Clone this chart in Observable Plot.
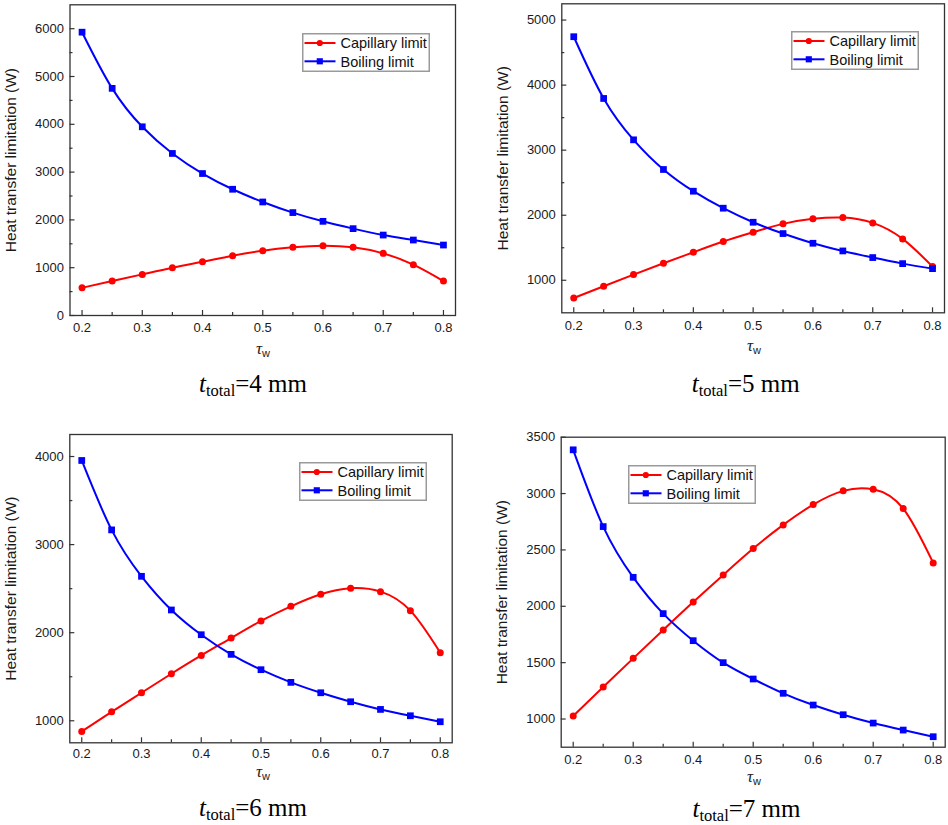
<!DOCTYPE html>
<html>
<head>
<meta charset="utf-8">
<script src="https://cdn.jsdelivr.net/npm/d3@7"></script>
<script src="https://cdn.jsdelivr.net/npm/@observablehq/plot@0.6"></script>
<style>
  body { margin: 0; background: #fff; }
  #wrap { position: relative; width: 948px; height: 825px; overflow: hidden; font-family: "Liberation Sans", Arial, sans-serif; }
  .panel { position: absolute; }
  .panel g[aria-label="y-axis label"] text { font-size: 15.5px; }
  .cap { position: absolute; transform: translate(-50%, -50%); white-space: nowrap; font-family: "Liberation Serif", "Times New Roman", serif; font-size: 25px; line-height: 1; color: #000; }
  .cap sub { font-size: 16.5px; vertical-align: -0.25em; line-height: 0; }
  .xl { position: absolute; transform: translate(-50%, -50%); white-space: nowrap; color: #222; line-height: 1; }
  .xl .tau { font-family: "Liberation Serif", "Times New Roman", serif; font-style: italic; font-size: 17px; }
  .xl sub { font-family: "Liberation Sans", Arial, sans-serif; font-size: 11px; vertical-align: -0.35em; line-height: 0; }
  .legend { position: absolute; }
</style>
</head>
<body>
<div id="wrap"></div>
<script>
// ---------- data ----------
const tau = [0.2, 0.25, 0.3, 0.35, 0.4, 0.45, 0.5, 0.55, 0.6, 0.65, 0.7, 0.75, 0.8];
const xTicks = [0.2, 0.3, 0.4, 0.5, 0.6, 0.7, 0.8];
const xMinor = [0.25, 0.35, 0.45, 0.55, 0.65, 0.75];
const seriesNames = ["Capillary limit", "Boiling limit"];

// t_total = 4 mm
const capillary4 = [580, 720, 860, 1000, 1126, 1252, 1356, 1426, 1461, 1426, 1300, 1063, 720];
const boiling4   = [5927, 4752, 3948, 3390, 2970, 2641, 2375, 2153, 1970, 1817, 1683, 1579, 1474];
const yTicks4 = [0, 1000, 2000, 3000, 4000, 5000, 6000];
const yMinor4 = [500, 1500, 2500, 3500, 4500, 5500];

// t_total = 5 mm
const capillary5 = [728, 908, 1087, 1262, 1431, 1595, 1738, 1867, 1944, 1964, 1882, 1636, 1210];
const boiling5   = [4744, 3795, 3159, 2703, 2369, 2108, 1892, 1718, 1569, 1451, 1349, 1256, 1179];
const yTicks5 = [1000, 2000, 3000, 4000, 5000];
const yMinor5 = [1500, 2500, 3500, 4500];

// t_total = 6 mm
const capillary6 = [879, 1102, 1318, 1534, 1742, 1939, 2133, 2299, 2436, 2504, 2466, 2250, 1773];
const boiling6   = [3955, 3167, 2640, 2258, 1977, 1754, 1580, 1436, 1318, 1216, 1129, 1057, 989];
const yTicks6 = [1000, 2000, 3000, 4000];
const yMinor6 = [1500, 2500, 3500];

// t_total = 7 mm
const capillary7 = [1027, 1284, 1538, 1790, 2038, 2278, 2512, 2722, 2902, 3024, 3038, 2867, 2385];
const boiling7   = [3388, 2707, 2257, 1935, 1695, 1500, 1355, 1228, 1124, 1038, 964, 902, 843];
const yTicks7 = [1000, 1500, 2000, 2500, 3000, 3500];
const yMinor7 = [];

const captionValues = [4, 5, 6, 7];

// ---------- layout ----------
const panels = [
  {cap: capillary4, boil: boiling4, ticks: yTicks4, minor: yMinor4, ydom: [0, 6500], t: captionValues[0],
   left: 0, top: 0, width: 474, height: 360, mt: 4.3, mr: 19, mb: 45, ml: 69.5, xpad: 7.5,
   legend: [301.7, 32.7], xl: [263, 347.5], capPos: [253, 383]},
  {cap: capillary5, boil: boiling5, ticks: yTicks5, minor: yMinor5, ydom: [500, 5250], t: captionValues[1],
   left: 474, top: 0, width: 474, height: 360, mt: 3.3, mr: 4, mb: 47.7, ml: 87.3, xpad: 8,
   legend: [791.3, 31], xl: [754, 345], capPos: [745.7, 383]},
  {cap: capillary6, boil: boiling6, ticks: yTicks6, minor: yMinor6, ydom: [750, 4250], t: captionValues[2],
   left: 0, top: 410, width: 474, height: 380, mt: 24, mr: 22.3, mb: 47.7, ml: 69.3, xpad: 5.5,
   legend: [299.3, 462], xl: [263, 771], capPos: [253, 807]},
  {cap: capillary7, boil: boiling7, ticks: yTicks7, minor: yMinor7, ydom: [750, 3500], t: captionValues[3],
   left: 474, top: 410, width: 474, height: 380, mt: 26.7, mr: 3.3, mb: 43.3, ml: 86.7, xpad: 7.5,
   legend: [628, 465], xl: [754, 776], capPos: [746.5, 808]}
];

const RED = "#ff0000", BLUE = "#0000ff";
const wrap = document.getElementById("wrap");

for (const p of panels) {
  const capRows = tau.map((t, i) => ({tau: t, value: p.cap[i]}));
  const boilRows = tau.map((t, i) => ({tau: t, value: p.boil[i]}));
  const chart = Plot.plot({
    width: p.width, height: p.height,
    marginTop: p.mt, marginRight: p.mr, marginBottom: p.mb, marginLeft: p.ml,
    x: {domain: [0.18, 0.82]},
    y: {domain: p.ydom},
    style: {fontFamily: "Liberation Sans, Arial, sans-serif", fontSize: "13px", color: "#1a1a1a", background: "transparent"},
    marks: [
      Plot.axisX({ticks: xTicks, tickSize: -5, fill: "none", label: null, stroke: "#333", strokeWidth: 1.2}),
      Plot.axisX({ticks: xMinor, tickSize: -3, fill: "none", label: null, stroke: "#333", strokeWidth: 1.2}),
      Plot.axisX({ticks: xTicks, tickSize: 0, tickPadding: p.xpad, tickFormat: d3.format(".1f"), label: null}),
      Plot.axisY({ticks: p.ticks, tickSize: -5, fill: "none", label: null, stroke: "#333", strokeWidth: 1.2}),
      Plot.axisY({ticks: p.minor, tickSize: -3, fill: "none", label: null, stroke: "#333", strokeWidth: 1.2}),
      Plot.axisY({ticks: p.ticks, tickSize: 0, tickPadding: 6, tickFormat: d3.format("d"),
        label: "Heat transfer limitation (W)", labelAnchor: "center", labelOffset: 65, labelArrow: false}),
      Plot.line(capRows, {x: "tau", y: "value", stroke: RED, strokeWidth: 2, curve: "natural"}),
      Plot.dot(capRows, {x: "tau", y: "value", r: 3.5, fill: RED, symbol: "circle"}),
      Plot.line(boilRows, {x: "tau", y: "value", stroke: BLUE, strokeWidth: 2, curve: "natural"}),
      Plot.dot(boilRows, {x: "tau", y: "value", r: 3.8, fill: BLUE, symbol: "square"}),
      Plot.frame({stroke: "#333", strokeWidth: 1.3})
    ]
  });
  chart.classList.add("panel");
  chart.style.left = p.left + "px";
  chart.style.top = p.top + "px";
  wrap.appendChild(chart);

  // legend
  const lg = d3.select(wrap).append("svg").attr("class", "legend")
    .attr("width", 128).attr("height", 39)
    .style("left", p.legend[0] + "px").style("top", p.legend[1] + "px");
  lg.append("rect").attr("x", 0.75).attr("y", 0.75).attr("width", 126.5).attr("height", 37.5)
    .attr("fill", "#fff").attr("stroke", "#9a9a9a").attr("stroke-width", 1.5);
  const colors = [RED, BLUE];
  const syms = [d3.symbolCircle, d3.symbolSquare];
  seriesNames.forEach((name, i) => {
    const cy = 10 + i * 18.3;
    lg.append("line").attr("x1", 2.5).attr("x2", 33.5).attr("y1", cy).attr("y2", cy)
      .attr("stroke", colors[i]).attr("stroke-width", 2);
    lg.append("path").attr("d", d3.symbol(syms[i], i === 0 ? 30 : 38)())
      .attr("transform", `translate(17.8,${cy})`).attr("fill", colors[i]);
    lg.append("text").attr("x", 38.5).attr("y", cy + 5.2).text(name)
      .attr("font-family", "Liberation Sans, Arial, sans-serif").attr("font-size", 14.5).attr("fill", "#111");
  });

  // x label
  const xl = document.createElement("div");
  xl.className = "xl";
  xl.style.left = p.xl[0] + "px"; xl.style.top = p.xl[1] + "px";
  xl.innerHTML = '<span class="tau">τ</span><sub>w</sub>';
  wrap.appendChild(xl);

  // caption
  const c = document.createElement("div");
  c.className = "cap";
  c.style.left = p.capPos[0] + "px"; c.style.top = p.capPos[1] + "px";
  c.innerHTML = `<i>t</i><sub>total</sub>=${p.t} mm`;
  wrap.appendChild(c);
}
</script>
</body>
</html>
